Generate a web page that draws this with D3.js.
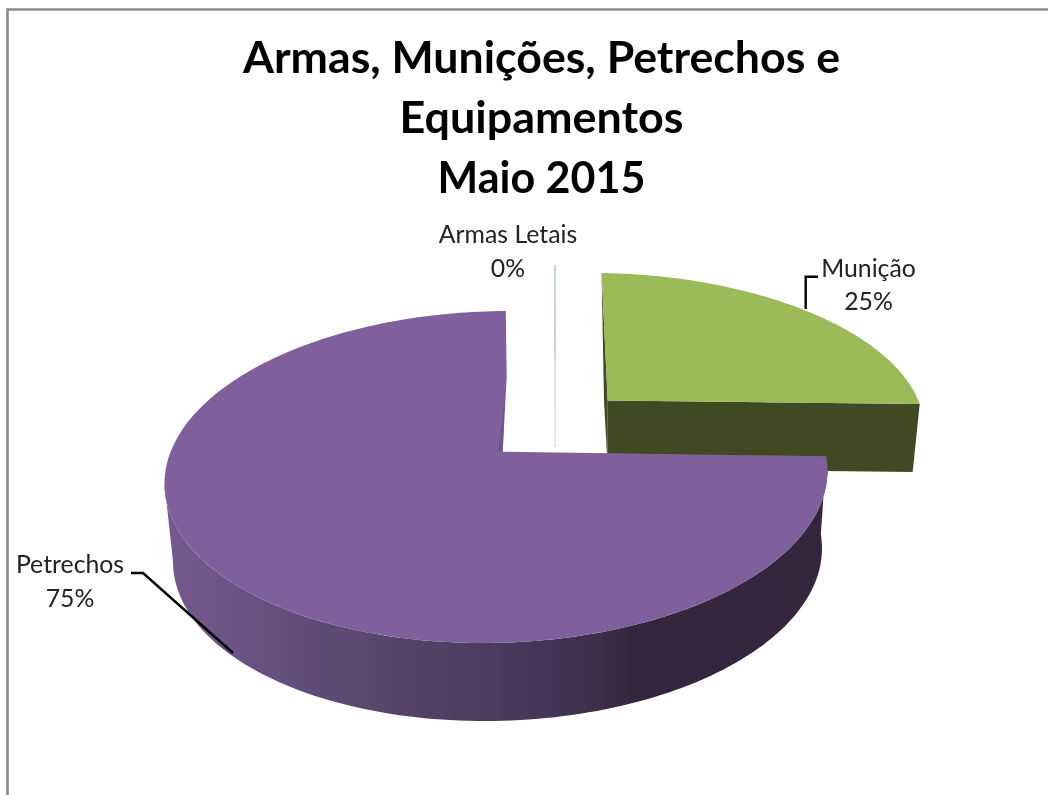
<!DOCTYPE html>
<html><head><meta charset="utf-8">
<script src="https://cdn.jsdelivr.net/npm/d3@7/dist/d3.min.js"></script>
<style>html,body{margin:0;padding:0;background:#fff}svg{display:block}</style>
</head><body>
<svg id="c" width="1048" height="795"></svg>
<script>
const categories = ["Armas Letais", "Munição", "Petrechos"];
const shares = [0, 25, 75];
const titleLines = ["Armas, Munições, Petrechos e", "Equipamentos", "Maio 2015"];

const svg = d3.select("#c");
const W = 1048, H = 795;
svg.append("rect").attr("width", W).attr("height", H).attr("fill", "#fff");

const defs = svg.append("defs");
defs.append("filter").attr("id", "soft").attr("x", "-5%").attr("y", "-5%").attr("width", "110%").attr("height", "110%")
  .append("feGaussianBlur").attr("stdDeviation", 0.45);
const root = svg.append("g").attr("filter", "url(#soft)");

// chart frame (only top and left visible)
root.append("path").attr("d", "M7.5,800V9.5H1060").attr("fill", "none").attr("stroke", "#8a8a8a").attr("stroke-width", 2.6);

const pieLayout = d3.pie().sort(null).value(d => d)(shares);

// perspective view of the unit disc, used for the exploded back slices
function view(cfg) {
  const kx = cfg.kx, ky = cfg.ky;
  const a = cfg.right[0] * (1 + kx) - cfg.apex[0], d = cfg.right[1] * (1 + kx) - cfg.apex[1];
  const b = cfg.far[0] * (1 + ky) - cfg.apex[0], e = cfg.far[1] * (1 + ky) - cfg.apex[1];
  return (ang, r = 1) => {
    const x = r * Math.sin(ang), y = r * Math.cos(ang);
    const w = 1 + kx * x + ky * y;
    return [(a * x + b * y + cfg.apex[0]) / w, (d * x + e * y + cfg.apex[1]) / w];
  };
}
const views = [
  view({apex: [555, 447], far: [555, 265], right: [860, 450], kx: 0.012, ky: 0.1506}),
  view({apex: [607.7, 400.5], far: [601.6, 273], right: [919.7, 404], kx: 0.012, ky: 0.15})
];
const drop = (p, cx, dx, depth) => [cx + (p[0] - cx) * dx, p[1] + depth];
const line = d3.line();
const arcPts = (v, a0, a1) => d3.range(0, 121).map(i => v(a0 + (a1 - a0) * i / 120));

const sideGrad = defs.append("linearGradient").attr("id", "side").attr("gradientUnits", "userSpaceOnUse")
  .attr("x1", 165).attr("x2", 830).attr("y1", 0).attr("y2", 0);
[[0, "#755a90"], [0.128, "#6a5283"], [0.25, "#5e4974"], [0.35, "#574369"], [0.5, "#4b3a5e"], [0.62, "#3f3150"], [0.71, "#35273f"], [1, "#34263e"]]
  .forEach(s => sideGrad.append("stop").attr("offset", s[0]).attr("stop-color", s[1]));
const zeroGrad = defs.append("linearGradient").attr("id", "zero").attr("gradientUnits", "userSpaceOnUse")
  .attr("x1", 0).attr("x2", 0).attr("y1", 265).attr("y2", 447);
[[0, "#a9c6e4"], [0.45, "#b9b4cc"], [0.52, "#c4d6ea"], [0.62, "#e6cfd0"], [1, "#eed6d6"]]
  .forEach(s => zeroGrad.append("stop").attr("offset", s[0]).attr("stop-color", s[1]));

// zero-size slice
{
  const s = pieLayout[0], v = views[0];
  root.append("path").attr("d", line([v(s.startAngle, 0), v(s.startAngle)]))
    .attr("fill", "none").attr("stroke", "url(#zero)").attr("stroke-width", 1.4);
}

// green slice
{
  const s = pieLayout[1], v = views[1];
  const cx = 760, depth = 68;
  const apex = v(0, 0), far = v(s.startAngle), tip = v(s.endAngle);
  const apexLow = drop(apex, 607.7, 0.99, depth), tipLow = drop(tip, cx, 0.956, depth);
  root.append("path").attr("d", line([far, apex, apexLow, [604, 400]]) + "Z").attr("fill", "#3f4a21");
  root.append("path").attr("d", line([apex, tip, tipLow, apexLow]) + "Z").attr("fill", "#3f4a21");
  root.append("path").attr("d", line([apex, ...arcPts(v, s.startAngle, s.endAngle)]) + "Z").attr("fill", "#9bbb59");
}

// purple slice: rim is a slightly tilted ellipse, pie angle mapped on to its parameter
{
  const s = pieLayout[2];
  const deg = Math.PI / 180;
  const rimParam = d3.scaleLinear().domain([s.startAngle, s.endAngle]).range([-4.9 * deg, 271.7 * deg]);
  const rim = (c, rx) => ang => {
    const t = rimParam(ang);
    return [c[0] + rx * Math.cos(t), c[1] - 6.6 * Math.cos(t) + 165.9 * Math.sin(t)];
  };
  const upper = rim([496, 477], 331.5), lower = rim([497.5, 555], 324.5);
  const sideEnd = rimParam.invert(180 * deg);
  const n = d3.range(0, 121).map(i => s.startAngle + (sideEnd - s.startAngle) * i / 120);
  root.append("path").attr("d", line([...n.map(upper), ...n.map(lower).reverse()]) + "Z").attr("fill", "url(#side)");
  const apex = [502.7, 451.7];
  const faceAngles = d3.range(0, 241).map(i => s.startAngle + (s.endAngle - s.startAngle) * i / 240);
  root.append("path").attr("d", line([apex, ...faceAngles.map(upper), [506.7, 377]]) + "Z").attr("fill", "#7f619d");
  root.append("path").attr("d", line([[498.5, 451.2], apex, [504.6, 400]]) + "Z").attr("fill", "#6f5389");
}

// leaders
const leaders = [[[818, 276.7], [805.7, 276.7], [805.7, 309]], [[131, 573], [143, 573], [233, 653]]];
root.selectAll(".leader").data(leaders).join("path").attr("class", "leader")
  .attr("d", line).attr("fill", "none").attr("stroke", "#000").attr("stroke-width", 2.4);

// title
const titleFit = [597, 284, 208];
root.append("g").attr("font-family", "Lato, Carlito, sans-serif").attr("font-weight", 700).attr("font-size", 44.8)
  .attr("text-anchor", "middle").attr("fill", "#000")
  .selectAll("text").data(titleLines).join("text")
  .attr("x", 541.5).attr("y", (d, i) => 73 + i * 60)
  .attr("textLength", (d, i) => titleFit[i]).attr("lengthAdjust", "spacingAndGlyphs").text(d => d);

// labels
const labelAnchor = [[508, 243.3], [868.5, 276.7], [70, 573.3]];
const lab = root.append("g").attr("font-family", "Lato, Carlito, sans-serif").attr("font-size", 24.8)
  .attr("text-anchor", "middle").attr("fill", "#222");
categories.forEach((c, i) => {
  lab.append("text").attr("x", labelAnchor[i][0]).attr("y", labelAnchor[i][1]).text(c);
  lab.append("text").attr("x", labelAnchor[i][0]).attr("y", labelAnchor[i][1] + 33.4).text(d3.format(".0f")(shares[i]) + "%");
});
</script>
</body></html>
